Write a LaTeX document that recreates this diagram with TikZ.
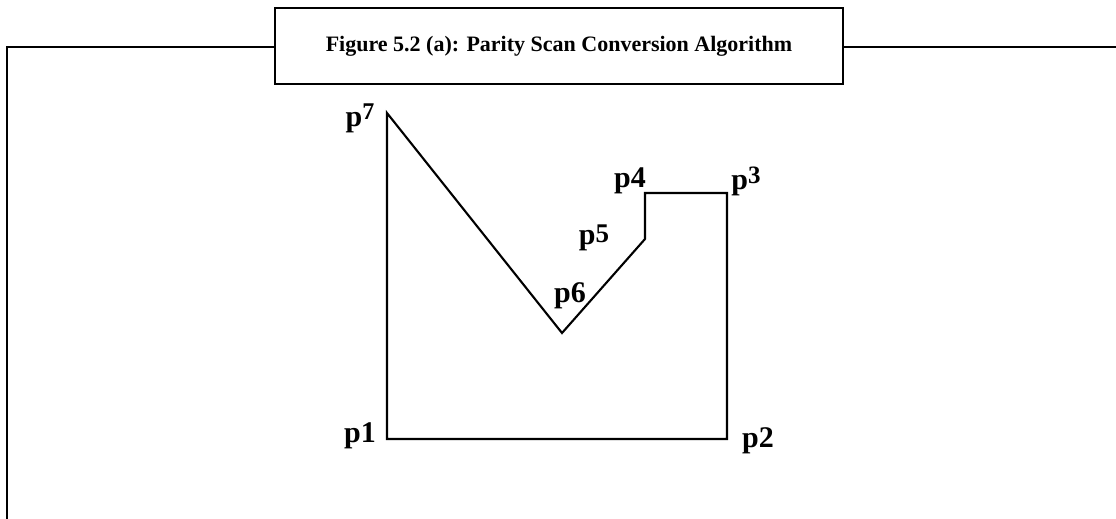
\documentclass[tikz,border=0pt]{standalone}
\usepackage{fontspec}
\setmainfont{Liberation Serif}
\usetikzlibrary{positioning}

\begin{document}
\begin{tikzpicture}[x=1pt, y=-1pt,
    caption/.style={rectangle, draw=black, line width=1.7pt, minimum width=568pt, minimum height=76pt, inner sep=0pt, font=\fontsize{22}{26}\selectfont\bfseries},
    frameline/.style={draw=black, line width=1.8pt},
    edge/.style={draw=black, line width=2.1pt, line join=miter},
    vlabel/.style={inner sep=0pt, anchor=base, font=\fontsize{30}{34}\selectfont\bfseries},
    updigit/.style={font=\fontsize{25}{28}\selectfont\bfseries}]

    \useasboundingbox (0,0) rectangle (1116,519);

    % Frame and caption
    \node [caption] at (559,46) (title) {Figure 5.2 (a): Parity Scan Conversion Algorithm};
    \coordinate (fl) at (7,47);
    \coordinate (fr) at (1117,47);
    \coordinate (fb) at (7,520);
    \draw [frameline] (fb) -- (fl) -- (fl -| title.west);
    \draw [frameline] (title.east |- fr) -- (fr);

    % Polygon vertices
    \coordinate (p1) at (387,439);
    \coordinate (p2) at (727,439);
    \coordinate (p3) at (727,193);
    \coordinate (p4) at (645,193);
    \coordinate (p5) at (645,239);
    \coordinate (p6) at (562,333);
    \coordinate (p7) at (387,113);
    \draw [edge] (p1) -- (p2) -- (p3) -- (p4) -- (p5) -- (p6) -- (p7) -- cycle;

    % Vertex labels
    \node [vlabel] at (360,442) (l1) {p1};
    \node [vlabel] at (758,447) (l2) {p2};
    \node [vlabel] at (746,189) (l3) {p\raisebox{6pt}{\fontsize{25}{28}\selectfont 3}};
    \node [vlabel] at (630,187) (l4) {p4};
    \node [vlabel] at (594,244) (l5) {p\raisebox{2pt}{\fontsize{27}{30}\selectfont 5}};
    \node [vlabel] at (570,302) (l6) {p6};
    \node [vlabel] at (360,126) (l7) {p\raisebox{7pt}{\fontsize{24}{28}\selectfont 7}};

\end{tikzpicture}
\end{document}
